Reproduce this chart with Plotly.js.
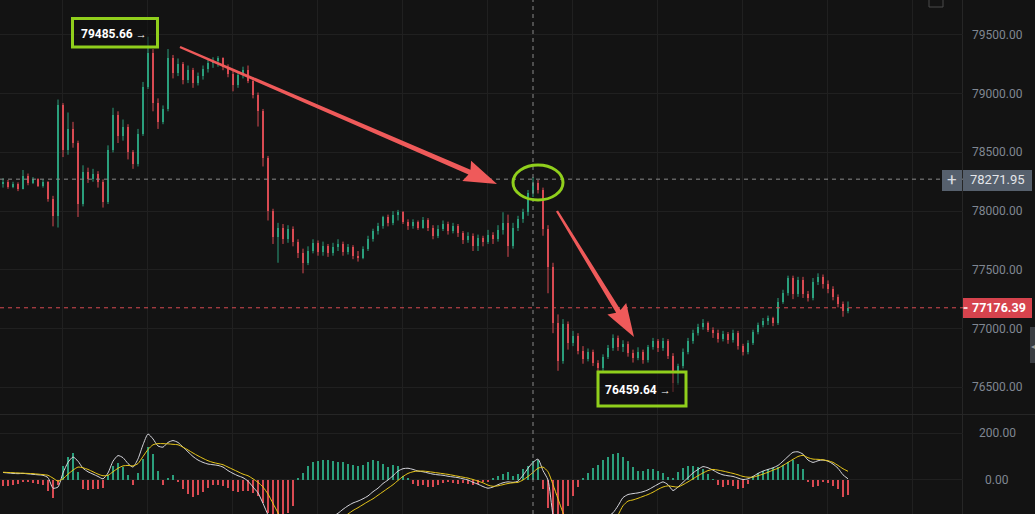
<!DOCTYPE html>
<html><head><meta charset="utf-8">
<script src="https://cdn.plot.ly/plotly-3.0.1.min.js"></script>
<style>html,body{margin:0;padding:0;background:#131313;overflow:hidden;}#chart{width:1035px;height:514px;}</style>
</head><body><div id="chart"></div>
<script>
// ---------- data ----------
const candleOpen = [
78230,78250,78205,78235,78190,78300,78240,78270,78215,78250,
78100,77960,78900,78520,78700,78580,78060,78330,78270,78320,
78250,78080,78520,78820,78640,78720,78500,78400,78660,79060,
79350,78920,78760,78870,79300,79180,79250,79120,79200,79090,
79150,79210,79260,79280,79300,79230,79170,79070,79160,79200,
79110,78990,78850,78450,78000,77780,77860,77760,77850,77740,
77640,77560,77660,77730,77650,77700,77640,77690,77720,77650,
77690,77620,77600,77680,77760,77830,77870,77950,77900,77970,
77990,77910,77870,77910,77860,77920,77860,77790,77850,77890,
77830,77870,77810,77750,77790,77700,77770,77740,77800,77760,
77840,77900,77700,77860,77930,77990,78150,78240,78180,77850,
77520,77050,76720,77040,76880,76940,76810,76740,76800,76710,
76660,76760,76830,76920,76840,76870,76790,76750,76800,76730,
76840,76890,76830,76890,76770,76540,76680,76800,76890,76960,
77010,77050,76990,76960,76910,76950,76900,76960,76850,76800,
76880,76970,77030,77060,77090,77050,77230,77300,77430,77290,
77410,77290,77260,77400,77440,77380,77340,77270,77210,77150];
const candleHigh = [
78280,78265,78250,78245,78350,78320,78290,78280,78270,78255,
78130,78950,78920,78840,78760,78600,78390,78370,78360,78340,
78270,78560,78880,78850,78780,78740,78520,78700,79100,79485.66,
79380,78960,78900,79380,79330,79300,79270,79240,79220,79180,
79240,79290,79310,79320,79310,79250,79200,79190,79230,79240,
79140,79010,78870,78470,78020,77900,77890,77880,77870,77760,
77680,77700,77760,77750,77740,77720,77730,77760,77740,77720,
77710,77660,77700,77790,77850,77900,77960,77970,78000,78010,
78000,77930,77930,77920,77950,77940,77880,77880,77920,77910,
77900,77890,77830,77820,77810,77800,77790,77840,77820,77880,
77990,77970,77900,77960,78020,78180,78290,78265,78200,77880,
77560,77120,77080,77060,76980,76960,76850,76830,76820,76730,
76780,76860,76950,76940,76900,76890,76820,76840,76820,76860,
76920,76910,76920,76910,76790,76700,76830,76920,76990,77040,
77080,77060,77010,76990,76980,76970,76990,76980,76870,76900,
76990,77050,77090,77110,77100,77260,77330,77450,77450,77440,
77440,77320,77430,77470,77460,77410,77360,77290,77230,77230];
const candleLow = [
78200,78190,78195,78170,78185,78220,78230,78205,78200,78080,
77870,77860,78460,78480,78540,77950,78040,78240,78250,78200,
78030,78060,78500,78580,78600,78440,78360,78380,78640,79040,
78850,78700,78740,78850,79130,79150,79080,79090,79050,79070,
79120,79180,79220,79230,79200,79140,79020,79050,79130,79090,
78960,78720,78380,77920,77720,77560,77720,77730,77700,77600,
77470,77540,77640,77620,77620,77610,77620,77660,77620,77630,
77590,77570,77590,77660,77740,77800,77850,77870,77880,77920,
77890,77840,77850,77840,77850,77830,77760,77770,77830,77800,
77810,77780,77720,77730,77660,77660,77700,77720,77720,77740,
77800,77610,77680,77830,77900,77960,78120,78150,77790,77300,
76960,76640,76700,76820,76850,76780,76700,76720,76680,76610,
76640,76740,76810,76810,76800,76760,76710,76730,76700,76710,
76820,76800,76810,76740,76459.64,76520,76660,76780,76870,76940,
76990,76970,76920,76880,76890,76870,76880,76820,76770,76780,
76860,76950,77010,77030,77020,77030,77210,77280,77250,77270,
77260,77230,77240,77370,77340,77300,77240,77180,77100,77130];
const candleClose = [
78250,78205,78235,78190,78300,78240,78270,78215,78250,78100,
77960,78900,78520,78700,78580,78060,78330,78270,78320,78250,
78080,78520,78820,78640,78720,78500,78400,78660,79060,79350,
78920,78760,78870,79300,79180,79250,79120,79200,79090,79150,
79210,79260,79280,79300,79230,79170,79070,79160,79200,79110,
78990,78850,78450,78000,77780,77860,77760,77850,77740,77640,
77560,77660,77730,77650,77700,77640,77690,77720,77650,77690,
77620,77600,77680,77760,77830,77870,77950,77900,77970,77990,
77910,77870,77910,77860,77920,77860,77790,77850,77890,77830,
77870,77810,77750,77790,77700,77770,77740,77800,77760,77840,
77900,77700,77860,77930,77990,78150,78240,78180,77850,77520,
77050,76720,77040,76880,76940,76810,76740,76800,76710,76660,
76760,76830,76920,76840,76870,76790,76750,76800,76730,76840,
76890,76830,76890,76770,76540,76680,76800,76890,76960,77010,
77050,76990,76960,76910,76950,76900,76960,76850,76800,76880,
76970,77030,77060,77090,77050,77230,77300,77430,77290,77410,
77290,77260,77400,77440,77380,77340,77270,77210,77150,77176.39];
const macdHist = [
-25,-25,-20,-15,-8,-10,-12,-15,-20,-45,
-75,-20,60,100,115,35,-40,-43,-40,-38,
-35,20,60,72,55,20,-20,30,90,140,
110,40,-20,10,20,-10,-40,-60,-72,-65,
-50,-35,-22,-20,-25,-35,-45,-50,-48,-45,
-55,-70,-100,-140,-160,-160,-160,-140,-110,10,
30,60,75,82,85,85,80,78,75,70,
65,58,62,78,85,82,70,55,65,58,
15,8,-15,-25,-20,-30,-28,-20,-12,-10,
-12,-15,-12,-18,-22,-15,-10,-8,8,15,
25,35,15,25,45,60,80,85,-40,-120,
-160,-160,-160,-110,-70,-30,10,30,50,65,
85,100,112,115,100,80,55,40,38,45,
48,40,30,12,10,35,50,58,60,55,
45,25,5,-20,-30,-20,-25,-38,-35,-15,
15,30,40,45,50,55,65,78,85,70,
45,-10,-30,-25,-8,-12,-25,-40,-72,-65];
const macdDif = [
32,30,28,27,28,26,24,22,20,10,
-35,-30,30,75,98,80,50,35,25,15,
5,30,80,104,95,70,55,90,150,196,
175,145,140,160,168,160,140,120,100,85,
75,68,65,62,55,40,28,18,10,-5,
-30,-55,-100,-150,-210,-260,-300,-320,-310,-290,
-270,-245,-220,-195,-178,-165,-155,-142,-125,-110,
-98,-90,-80,-68,-50,-35,-15,0,18,38,
48,50,45,38,35,30,25,22,20,16,
13,10,5,0,-10,-18,-28,-35,-30,-20,
-12,-8,-10,-5,20,50,75,89,40,0,
-150,-230,-280,-310,-320,-310,-290,-260,-230,-200,
-175,-155,-140,-110,-75,-62,-58,-55,-50,-42,
-30,-18,-8,-20,-45,-30,-10,10,30,45,
57,52,42,30,22,18,15,8,2,5,
15,28,38,45,52,62,80,100,118,120,
110,85,75,82,85,80,68,50,22,5];
const macdDea = [
33,32,31,30,29,28,27,25,23,20,
8,-5,5,25,42,55,52,45,35,25,
18,20,35,50,60,62,60,70,100,130,
150,155,155,154,152,150,140,128,115,103,
92,82,75,70,65,55,45,35,25,18,
5,-10,-30,-60,-100,-140,-180,-220,-250,-270,
-275,-275,-270,-260,-240,-220,-200,-180,-160,-145,
-130,-118,-105,-92,-80,-65,-50,-35,-20,-2,
15,28,35,38,38,36,33,30,27,24,
20,16,12,8,2,-5,-12,-22,-27,-25,
-20,-15,-12,-10,0,15,32,50,55,35,
-20,-80,-140,-190,-230,-260,-275,-280,-280,-270,
-250,-225,-190,-150,-110,-90,-85,-78,-70,-62,
-52,-40,-30,-25,-28,-30,-20,-8,5,18,
30,40,45,42,38,33,28,22,15,12,
12,18,25,33,42,50,62,75,88,100,
105,95,89,88,86,82,75,62,48,37];
const priceTicks = [76500, 77000, 77500, 78000, 78500, 79000, 79500];
const macdTicks = [0, 200];
const highLabel = 79485.66;
const lowLabel = 76459.64;
const crossPrice = 78271.95;
const crossIdx = 106;
const lastPrice = 77176.39;

// ---------- styling / layout ----------
const UP = '#2b9f7c', DOWN = '#d94a52', GRID = '#202020', LABEL = '#808792';
const LIME = '#90cf1c', ARROW = '#ef5a5a';
const H = 514, PW = 963;
const px = x => x / PW, py = y => 1 - y / H;
const idx = candleClose.map((_, i) => i);

// candles drawn as bodies (bars) + wicks (lines) so the body width can be controlled
function candleSet(isUp) {
  const sel = idx.filter(i => (candleClose[i] >= candleOpen[i]) === isUp);
  const color = isUp ? UP : DOWN;
  const wx = [], wy = [];
  sel.forEach(i => { wx.push(i, i, null); wy.push(candleLow[i], candleHigh[i], null); });
  return [
    {type: 'scatter', mode: 'lines', x: wx, y: wy, xaxis: 'x', yaxis: 'y', hoverinfo: 'skip',
     line: {color: color, width: 1}, connectgaps: false},
    {type: 'bar', x: sel, base: sel.map(i => Math.min(candleOpen[i], candleClose[i])),
     y: sel.map(i => Math.max(Math.abs(candleClose[i] - candleOpen[i]), 8)),
     xaxis: 'x', yaxis: 'y', width: 0.42, hoverinfo: 'skip', marker: {color: color, line: {width: 0}}}
  ];
}

const traces = [
  ...candleSet(true), ...candleSet(false),
  {type: 'bar', x: idx, y: macdHist, xaxis: 'x2', yaxis: 'y2', width: 0.42, hoverinfo: 'skip',
   marker: {color: macdHist.map(v => v >= 0 ? UP : DOWN), line: {width: 0}}},
  {type: 'scatter', mode: 'lines', x: idx, y: macdDif, xaxis: 'x2', yaxis: 'y2', hoverinfo: 'skip',
   line: {color: '#d6d6dc', width: 1, shape: 'spline', smoothing: 0.6}},
  {type: 'scatter', mode: 'lines', x: idx, y: macdDea, xaxis: 'x2', yaxis: 'y2', hoverinfo: 'skip',
   line: {color: '#e9c81a', width: 1, shape: 'spline', smoothing: 0.6}}
];

function arrowPath(x0, y0, x1, y1) {
  const dx = x1 - x0, dy = y1 - y0, L = Math.hypot(dx, dy);
  const ux = dx / L, uy = dy / L, nx = -uy, ny = ux;
  const hl = 30, hw = 11, s0 = 1.2, s1 = 2.6;
  const bx = x1 - ux * hl, by = y1 - uy * hl;
  const pts = [
    [x0 + nx * s0, y0 + ny * s0], [bx + nx * s1, by + ny * s1],
    [bx + nx * hw - ux * 3, by + ny * hw - uy * 3], [x1, y1],
    [bx - nx * hw - ux * 3, by - ny * hw - uy * 3], [bx - nx * s1, by - ny * s1],
    [x0 - nx * s0, y0 - ny * s0]];
  return 'M' + pts.map(p => px(p[0]).toFixed(5) + ',' + py(p[1]).toFixed(5)).join(' L') + ' Z';
}

const shapes = [
  {type: 'line', xref: 'paper', yref: 'paper', x0: 0, x1: px(1035), y0: py(414.5), y1: py(414.5), line: {color: '#262626', width: 1}, layer: 'below'},
  {type: 'line', xref: 'paper', yref: 'paper', x0: px(962.5), x1: px(962.5), y0: 0, y1: 1, line: {color: '#262626', width: 1}, layer: 'below'},
  {type: 'line', xref: 'x', yref: 'paper', x0: crossIdx, x1: crossIdx, y0: 0, y1: 1, line: {color: '#8a8a8a', width: 1, dash: '4px,4px'}},
  {type: 'line', xref: 'paper', yref: 'y', x0: 0, x1: 1, y0: crossPrice, y1: crossPrice, line: {color: '#8a8a8a', width: 1, dash: '4px,4px'}},
  {type: 'line', xref: 'paper', yref: 'y', x0: 0, x1: 1, y0: lastPrice, y1: lastPrice, line: {color: DOWN, width: 1, dash: '4px,4px'}},
  {type: 'rect', xref: 'paper', yref: 'paper', x0: px(72.5), x1: px(157.5), y0: py(47), y1: py(18.5), line: {color: LIME, width: 3}, fillcolor: 'rgba(17,17,17,0.55)'},
  {type: 'rect', xref: 'paper', yref: 'paper', x0: px(598), x1: px(686), y0: py(406), y1: py(372), line: {color: LIME, width: 3}, fillcolor: 'rgba(17,17,17,0.55)'},
  {type: 'circle', xref: 'paper', yref: 'paper', x0: px(513), x1: px(563), y0: py(200), y1: py(165), line: {color: LIME, width: 3}},
  {type: 'path', xref: 'paper', yref: 'paper', path: arrowPath(180, 47, 497, 184), fillcolor: ARROW, line: {width: 0}},
  {type: 'path', xref: 'paper', yref: 'paper', path: arrowPath(557, 211, 634, 337), fillcolor: ARROW, line: {width: 0}},
  {type: 'rect', xref: 'paper', yref: 'paper', x0: px(963), x1: px(1032), y0: py(191), y1: py(170), fillcolor: '#56606d', line: {width: 0}},
  {type: 'rect', xref: 'paper', yref: 'paper', x0: px(942), x1: px(962), y0: py(191), y1: py(170), fillcolor: '#56606d', line: {width: 0}},
  {type: 'rect', xref: 'paper', yref: 'paper', x0: px(963), x1: px(1032), y0: py(318), y1: py(298), fillcolor: '#d6434d', line: {width: 0}},
  {type: 'line', xref: 'paper', yref: 'paper', x0: px(963.5), x1: px(967.5), y0: py(308), y1: py(308), line: {color: '#ffffff', width: 1.5}},
  {type: 'rect', xref: 'paper', yref: 'paper', x0: px(929), x1: px(943), y0: py(7), y1: py(-6), line: {color: '#4a4a4a', width: 1}},
  {type: 'rect', xref: 'paper', yref: 'paper', x0: px(1030), x1: px(1036), y0: py(363), y1: py(327), fillcolor: '#3a3d42', line: {width: 0}}
];

const annotations = [];
priceTicks.forEach(v => annotations.push({xref: 'paper', yref: 'y', x: px(997), y: v, text: v.toFixed(2), showarrow: false, xanchor: 'center', yanchor: 'middle', font: {family: 'Roboto, sans-serif', size: 12, color: LABEL}}));
macdTicks.forEach(v => annotations.push({xref: 'paper', yref: 'y2', x: px(997), y: v, text: v.toFixed(2), showarrow: false, xanchor: 'center', yanchor: 'middle', font: {family: 'Roboto, sans-serif', size: 12, color: LABEL}}));
annotations.push(
  {xref: 'paper', yref: 'paper', x: px(114), y: py(34), text: '<b>' + highLabel.toFixed(2) + '</b> <span style="font-size:11px">→</span>', showarrow: false, xanchor: 'center', yanchor: 'middle', font: {family: 'Roboto, sans-serif', size: 12, color: '#ffffff'}},
  {xref: 'paper', yref: 'paper', x: px(638), y: py(390), text: '<b>' + lowLabel.toFixed(2) + '</b> <span style="font-size:11px">→</span>', showarrow: false, xanchor: 'center', yanchor: 'middle', font: {family: 'Roboto, sans-serif', size: 12, color: '#ffffff'}},
  {xref: 'paper', yref: 'y', x: px(997.5), y: crossPrice, text: crossPrice.toFixed(2), showarrow: false, xanchor: 'center', yanchor: 'middle', font: {family: 'Roboto, sans-serif', size: 13, color: '#e4e6ea'}},
  {xref: 'paper', yref: 'y', x: px(952), y: crossPrice, text: '+', showarrow: false, xanchor: 'center', yanchor: 'middle', font: {family: 'Roboto, sans-serif', size: 17, color: '#d8dbe0'}},
  {xref: 'paper', yref: 'y', x: px(999), y: lastPrice, text: '<b>' + lastPrice.toFixed(2) + '</b>', showarrow: false, xanchor: 'center', yanchor: 'middle', font: {family: 'Roboto, sans-serif', size: 12.5, color: '#ffffff'}},
  {xref: 'paper', yref: 'paper', x: px(1033), y: py(345), text: '◂', showarrow: false, xanchor: 'center', yanchor: 'middle', font: {size: 8, color: '#9a9a9a'}}
);

const xBase = {range: [-0.6, 192], showticklabels: false, ticks: '', tickmode: 'linear', tick0: 11.8, dtick: 17,
  showgrid: true, gridcolor: GRID, gridwidth: 1, zeroline: false, showline: false, fixedrange: true};
const layout = {
  width: 1035, height: 514, margin: {l: 0, r: 72, t: 0, b: 0},
  paper_bgcolor: '#131313', plot_bgcolor: '#131313', showlegend: false, dragmode: false, hovermode: false,
  xaxis: Object.assign({}, xBase, {anchor: 'y'}),
  xaxis2: Object.assign({}, xBase, {anchor: 'y2', matches: 'x'}),
  yaxis: {domain: [0.1946, 1], range: [76272, 79798], side: 'right', tickvals: priceTicks, showticklabels: false, ticks: '',
    showgrid: true, gridcolor: GRID, zeroline: false, showline: false, fixedrange: true},
  yaxis2: {domain: [0, 0.1926], range: [-145, 277], side: 'right', tickvals: macdTicks, showticklabels: false, ticks: '',
    showgrid: true, gridcolor: GRID, zeroline: false, showline: false, fixedrange: true},
  barmode: 'overlay', bargap: 0, shapes: shapes, annotations: annotations
};
Plotly.newPlot('chart', traces, layout, {displayModeBar: false, staticPlot: true});
</script></body></html>
